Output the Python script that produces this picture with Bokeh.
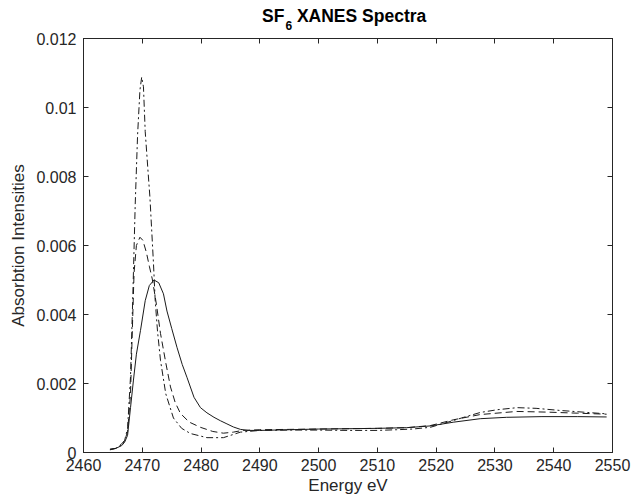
from bokeh.plotting import figure
from bokeh.models import LinearAxis, FixedTicker, Range1d, CustomLabelingPolicy, Div
from bokeh.layouts import column
from bokeh.embed import file_html
from bokeh.resources import INLINE

# ---- data ----
solid_x = [2464.5, 2465.5, 2466.5, 2467.0, 2467.5, 2468.0, 2468.5, 2469.0, 2469.7, 2470.5,
           2471.2, 2472.0, 2472.8, 2473.6, 2474.2, 2475.0, 2475.9, 2476.8, 2477.6, 2478.8,
           2479.9, 2481.0, 2482.2, 2483.3, 2484.4, 2485.5, 2486.7, 2488.0, 2490.0, 2495.0,
           2500.0, 2505.0, 2510.0, 2515.0, 2519.0, 2523.0, 2527.5, 2532.0, 2538.0, 2544.0,
           2549.0]
solid_y = [0.00010, 0.00012, 0.00020, 0.00030, 0.00050, 0.00130, 0.00210, 0.00285, 0.00354, 0.00440,
           0.00484, 0.00500, 0.00492, 0.00460, 0.00410, 0.00360, 0.00305, 0.00255, 0.00218, 0.00160,
           0.00130, 0.00115, 0.00102, 0.00092, 0.00083, 0.00074, 0.00067, 0.00064, 0.00064, 0.00066,
           0.00068, 0.00069, 0.00070, 0.00072, 0.00077, 0.00088, 0.00098, 0.00102, 0.00104, 0.00104,
           0.00103]

dashed_x = [2464.5, 2465.5, 2466.5, 2467.0, 2467.5, 2468.0, 2468.3, 2468.6, 2469.0, 2469.6,
            2470.1, 2470.7, 2471.2, 2471.7, 2472.4, 2473.1, 2474.0, 2474.8, 2475.6, 2476.5,
            2478.0, 2479.9, 2482.0, 2483.8, 2485.5, 2487.0, 2490.0, 2495.0, 2500.0, 2505.0,
            2510.0, 2515.0, 2519.0, 2523.0, 2527.5, 2533.7, 2539.0, 2544.0, 2549.0]
dashed_y = [0.00008, 0.00012, 0.00025, 0.00035, 0.00060, 0.00170, 0.00350, 0.00520, 0.00600, 0.00624,
            0.00615, 0.00580, 0.00540, 0.00503, 0.00430, 0.00345, 0.00260, 0.00190, 0.00145, 0.00113,
            0.00088, 0.00073, 0.00061, 0.00056, 0.00059, 0.00064, 0.00066, 0.00067, 0.00068, 0.00069,
            0.00070, 0.00072, 0.00078, 0.00095, 0.00110, 0.00119, 0.00117, 0.00114, 0.00111]

dashdot_x = [2464.5, 2465.5, 2466.5, 2467.0, 2467.5, 2468.0, 2468.4, 2468.8, 2469.2, 2469.6,
             2469.9, 2470.2, 2470.5, 2471.0, 2471.3, 2471.9, 2472.2, 2472.6, 2473.1, 2474.0,
             2475.3, 2476.7, 2478.2, 2481.0, 2483.8, 2486.7, 2490.0, 2495.0, 2500.0, 2505.0,
             2510.0, 2513.3, 2516.0, 2519.0, 2522.0, 2524.7, 2527.5, 2530.4, 2533.8, 2537.0,
             2541.0, 2545.0, 2549.0]
dashdot_y = [0.00008, 0.00012, 0.00022, 0.00035, 0.00070, 0.00220, 0.00460, 0.00720, 0.00920, 0.01050,
             0.01088, 0.01060, 0.00930, 0.00810, 0.00740, 0.00550, 0.00440, 0.00350, 0.00267, 0.00170,
             0.00100, 0.00070, 0.00055, 0.00043, 0.00043, 0.00059, 0.00064, 0.00065, 0.00065, 0.00064,
             0.00064, 0.00066, 0.00068, 0.00073, 0.00088, 0.00102, 0.00116, 0.00124, 0.00130, 0.00128,
             0.00122, 0.00117, 0.00112]

x_ticks = [2460, 2470, 2480, 2490, 2500, 2510, 2520, 2530, 2540, 2550]
y_ticks = [0, 0.002, 0.004, 0.006, 0.008, 0.01, 0.012]
y_tick_labels = ["0", "0.002", "0.004", "0.006", "0.008", "0.01", "0.012"]

title_main = "SF"
title_sub = "6"
title_rest = "XANES Spectra"
x_label = "Energy eV"
y_label = "Absorbtion Intensities"

FONT = "Liberation Sans"
INK = "#262626"
LINE = "#1a1a1a"

TITLE_H = 30

p = figure(frame_width=529, frame_height=414,
           min_border_left=83, min_border_right=27, min_border_top=38 - TITLE_H, min_border_bottom=50,
           x_range=Range1d(2460, 2550), y_range=Range1d(0, 0.012),
           output_backend="svg", toolbar_location=None, x_axis_type=None, y_axis_type=None)
p.outline_line_color = INK
p.outline_line_width = 1
p.xgrid.visible = False
p.ygrid.visible = False
p.background_fill_color = "white"
p.border_fill_color = "white"

hide_all = CustomLabelingPolicy(code="for (const i of Array.from(indices)) { indices.unset(i) }\nreturn indices")


def style_axis(ax, ticks, labels=True):
    ax.ticker = FixedTicker(ticks=ticks)
    ax.axis_line_color = INK
    ax.major_tick_line_color = INK
    ax.major_tick_in = 5
    ax.major_tick_out = 0
    ax.minor_tick_line_color = None
    ax.major_label_text_font = FONT
    ax.major_label_text_color = INK
    ax.major_label_text_font_size = "16px"
    ax.major_label_standoff = 7
    ax.axis_label_text_font = FONT
    ax.axis_label_text_font_style = "normal"
    ax.axis_label_text_color = INK
    ax.axis_label_text_font_size = "17px"
    if not labels:
        ax.major_label_policy = hide_all
        ax.major_label_standoff = 0
        ax.major_label_text_font_size = "1px"


xb = LinearAxis(axis_label=x_label)
style_axis(xb, x_ticks)
xb.major_label_standoff = 6
xb.axis_label_standoff = 2
p.add_layout(xb, "below")

yl = LinearAxis(axis_label=y_label)
style_axis(yl, y_ticks)
yl.major_label_overrides = {t: s for t, s in zip(y_ticks, y_tick_labels)}
yl.axis_label_standoff = 5
p.add_layout(yl, "left")

xt = LinearAxis()
style_axis(xt, x_ticks, labels=False)
p.add_layout(xt, "above")

yr = LinearAxis()
style_axis(yr, y_ticks, labels=False)
p.add_layout(yr, "right")

p.line(solid_x, solid_y, line_color=LINE, line_width=1)
p.line(dashed_x, dashed_y, line_color=LINE, line_width=1, line_dash="7 4")
p.line(dashdot_x, dashdot_y, line_color=LINE, line_width=1, line_dash="7 3 2 3")

title_html = (
    f'<div style="margin:0; padding:0; padding-left:262px; padding-top:8px; '
    f'font-family:\'{FONT}\'; font-weight:bold; font-size:17.5px; line-height:17.5px; '
    f'color:black; white-space:nowrap;">'
    f'{title_main}<span style="font-size:12px; position:relative; top:8px; '
    f'margin-left:1px;">{title_sub}</span> {title_rest}</div>'
)
title = Div(text=title_html, width=639, height=TITLE_H, margin=(0, 0, 0, 0))

layout = column(title, p, spacing=0, margin=(0, 0, 0, 0))
open("out.html", "w").write(file_html(layout, INLINE))
